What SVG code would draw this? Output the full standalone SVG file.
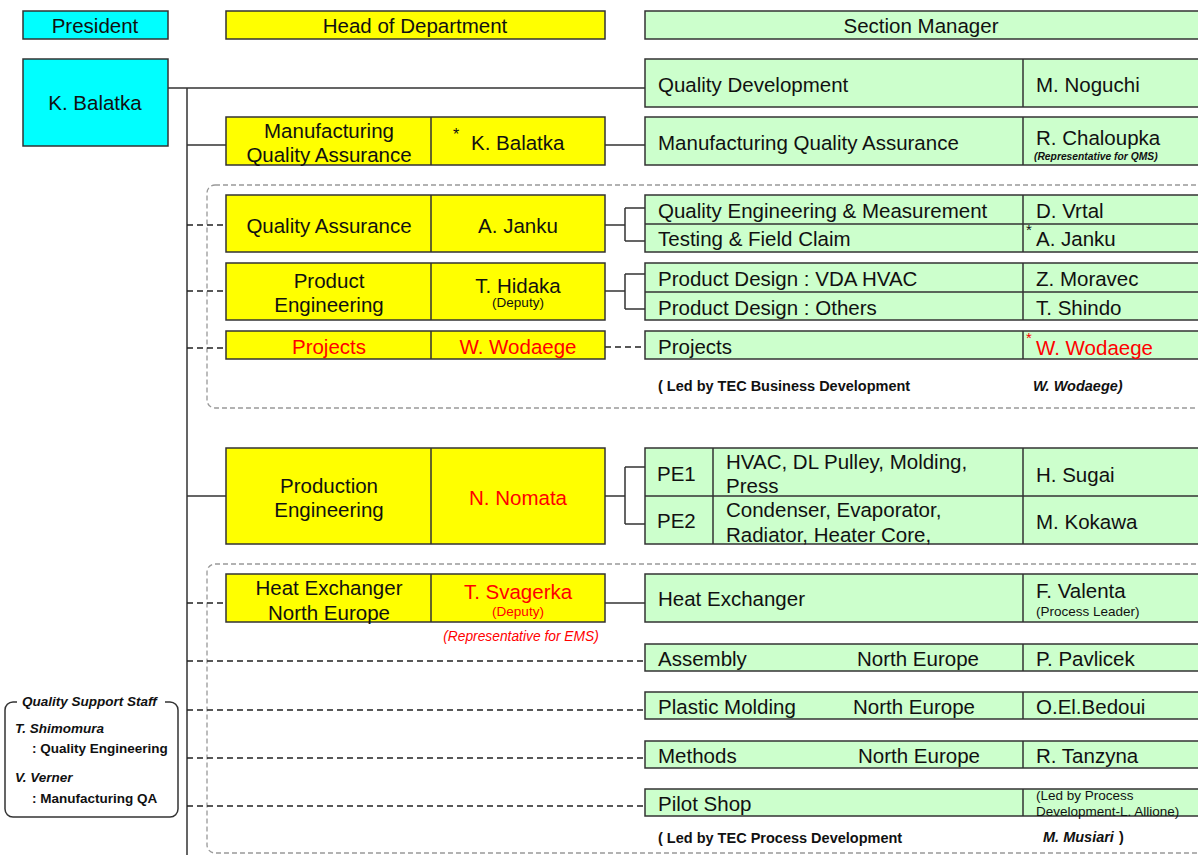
<svg xmlns="http://www.w3.org/2000/svg" width="1198" height="855" viewBox="0 0 1198 855">
<style>
text{font-family:"Liberation Sans",Arial,sans-serif;fill:#111;dominant-baseline:central}
.m{font-size:20.5px}
.c{text-anchor:middle}
.r{fill:#f00}
.s{font-size:13.5px}
.sb{font-size:14.5px;font-weight:bold}
.bi{font-weight:bold;font-style:italic}
.it{font-style:italic}
.q{font-size:13.5px}
.cy{fill:#00ffff;stroke:#333;stroke-width:1.5}
.ye{fill:#ffff00;stroke:#333;stroke-width:1.5}
.gr{fill:#ccffcc;stroke:#333;stroke-width:1.5}
.ln{fill:none;stroke:#333;stroke-width:1.5}
.dl{fill:none;stroke:#222;stroke-width:1.3;stroke-dasharray:6 4}
.dr{fill:none;stroke:#999;stroke-width:1.3;stroke-dasharray:5 3}
</style>
<rect width="1198" height="855" fill="#fff"/>

<g id="frames">
<rect class="dr" x="207" y="185" width="1010" height="223" rx="8"/>
<rect class="dr" x="207" y="564" width="1010" height="289" rx="8"/>
</g>

<g id="connectors">
<path class="ln" d="M168 88H645M187 88V855M187 145H226M605 145H645"/>
<path class="ln" d="M605 225H625M625 208V241M625 208H645M625 241H645"/>
<path class="ln" d="M605 291H625M625 274V309M625 274H645M625 309H645"/>
<path class="ln" d="M187 496H226M605 496H625M625 467V524M625 467H645M625 524H645"/>
<path class="ln" d="M605 603H645"/>
<path class="dl" d="M187 225H226M187 291H226M187 348H226M605 347H645M187 603H226"/>
<path class="dl" d="M187 661H645M187 710H645M187 758H645M187 806H645"/>
</g>

<g id="hdr-president"><rect class="cy" x="23" y="11" width="145" height="28"/><text class="m c" x="95" y="25">President</text></g>
<g id="hdr-head"><rect class="ye" x="226" y="11" width="379" height="28"/><text class="m c" x="415" y="25">Head of Department</text></g>
<g id="hdr-section"><rect class="gr" x="645" y="11" width="560" height="28"/><text class="m c" x="921" y="25">Section Manager</text></g>

<g id="president"><rect class="cy" x="23" y="59" width="145" height="87"/><text class="m c" x="95" y="102">K. Balatka</text></g>

<g id="quality-development"><rect class="gr" x="645" y="59" width="560" height="48"/><path class="ln" d="M1023 59V107"/>
<text class="m" x="658" y="84">Quality Development</text><text class="m" x="1036" y="84">M. Noguchi</text></g>

<g id="mqa-head"><rect class="ye" x="226" y="117" width="379" height="48"/><path class="ln" d="M431 117V165"/>
<text class="m c" x="329" y="130">Manufacturing</text><text class="m c" x="329" y="154">Quality Assurance</text>
<text x="453" y="134" style="font-size:16px">*</text><text class="m" x="471" y="142">K. Balatka</text></g>
<g id="mqa-section"><rect class="gr" x="645" y="117" width="560" height="48"/><path class="ln" d="M1023 117V165"/>
<text class="m" x="658" y="142">Manufacturing Quality Assurance</text><text class="m" x="1036" y="137">R. Chaloupka</text>
<text class="bi" x="1034" y="156" style="font-size:10.3px">(Representative for QMS)</text></g>

<g id="qa-head"><rect class="ye" x="226" y="195" width="379" height="57"/><path class="ln" d="M431 195V252"/>
<text class="m c" x="329" y="225">Quality Assurance</text><text class="m c" x="518" y="225">A. Janku</text></g>
<g id="qa-section"><rect class="gr" x="645" y="195" width="560" height="57"/><path class="ln" d="M1023 195V252M645 224H1205"/>
<text class="m" x="658" y="210">Quality Engineering &amp; Measurement</text><text class="m" x="1036" y="210">D. Vrtal</text>
<text class="m" x="658" y="238">Testing &amp; Field Claim</text><text x="1026" y="229" style="font-size:15px">*</text><text class="m" x="1036" y="238">A. Janku</text></g>

<g id="pe-head"><rect class="ye" x="226" y="263" width="379" height="57"/><path class="ln" d="M431 263V320"/>
<text class="m c" x="329" y="280">Product</text><text class="m c" x="329" y="304">Engineering</text>
<text class="m c" x="518" y="285">T. Hidaka</text><text class="s c" x="518" y="302">(Deputy)</text></g>
<g id="pe-section"><rect class="gr" x="645" y="263" width="560" height="57"/><path class="ln" d="M1023 263V320M645 292H1205"/>
<text class="m" x="658" y="278">Product Design : VDA HVAC</text><text class="m" x="1036" y="278">Z. Moravec</text>
<text class="m" x="658" y="307">Product Design : Others</text><text class="m" x="1036" y="307">T. Shindo</text></g>

<g id="projects-head"><rect class="ye" x="226" y="331" width="379" height="28"/><path class="ln" d="M431 331V359"/>
<text class="m c r" x="329" y="346">Projects</text><text class="m c r" x="518" y="346">W. Wodaege</text></g>
<g id="projects-section"><rect class="gr" x="645" y="331" width="560" height="28"/><path class="ln" d="M1023 331V359"/>
<text class="m" x="658" y="346">Projects</text><text class="r" x="1026" y="337" style="font-size:15px">*</text><text class="m r" x="1036" y="347">W. Wodaege</text></g>
<g id="note-business"><text class="sb" x="658" y="386">( Led by TEC Business Development</text><text class="sb bi" x="1033" y="386">W. Wodaege)</text></g>

<g id="prod-head"><rect class="ye" x="226" y="448" width="379" height="96"/><path class="ln" d="M431 448V544"/>
<text class="m c" x="329" y="485">Production</text><text class="m c" x="329" y="509">Engineering</text>
<text class="m c r" x="518" y="497">N. Nomata</text></g>
<g id="prod-section"><rect class="gr" x="645" y="448" width="560" height="96"/><path class="ln" d="M713 448V544M1023 448V544M645 496H1205"/>
<text class="m" x="657" y="473">PE1</text><text class="m" x="726" y="461">HVAC, DL Pulley, Molding,</text><text class="m" x="726" y="485">Press</text><text class="m" x="1036" y="474">H. Sugai</text>
<text class="m" x="657" y="520">PE2</text><text class="m" x="726" y="509">Condenser, Evaporator,</text><text class="m" x="726" y="534">Radiator, Heater Core,</text><text class="m" x="1036" y="521">M. Kokawa</text></g>

<g id="hx-head"><rect class="ye" x="226" y="574" width="379" height="48"/><path class="ln" d="M431 574V622"/>
<text class="m c" x="329" y="587">Heat Exchanger</text><text class="m c" x="329" y="612">North Europe</text>
<text class="m c r" x="518" y="591">T. Svagerka</text><text class="s c r" x="518" y="611">(Deputy)</text>
<text class="c r it" x="521" y="636" style="font-size:13.8px">(Representative for EMS)</text></g>
<g id="hx-section"><rect class="gr" x="645" y="574" width="560" height="48"/><path class="ln" d="M1023 574V622"/>
<text class="m" x="658" y="598">Heat Exchanger</text><text class="m" x="1036" y="590">F. Valenta</text><text class="s" x="1036" y="611">(Process Leader)</text></g>

<g id="assembly"><rect class="gr" x="645" y="644" width="560" height="27"/><path class="ln" d="M1023 644V671"/>
<text class="m" x="658" y="658">Assembly</text><text class="m" x="857" y="658">North Europe</text><text class="m" x="1036" y="658">P. Pavlicek</text></g>
<g id="plastic"><rect class="gr" x="645" y="692" width="560" height="27"/><path class="ln" d="M1023 692V719"/>
<text class="m" x="658" y="706">Plastic Molding</text><text class="m" x="853" y="706">North Europe</text><text class="m" x="1036" y="706">O.El.Bedoui</text></g>
<g id="methods"><rect class="gr" x="645" y="741" width="560" height="27"/><path class="ln" d="M1023 741V768"/>
<text class="m" x="658" y="755">Methods</text><text class="m" x="858" y="755">North Europe</text><text class="m" x="1036" y="755">R. Tanzyna</text></g>
<g id="pilot"><rect class="gr" x="645" y="789" width="560" height="27"/><path class="ln" d="M1023 789V816"/>
<text class="m" x="658" y="803">Pilot Shop</text><text class="s" x="1036" y="795">(Led by Process</text><text class="s" x="1036" y="811">Development-L. Allione)</text></g>
<g id="note-process"><text class="sb" x="658" y="838">( Led by TEC Process Development</text><text class="sb bi" x="1043" y="837">M. Musiari</text><text class="sb" x="1119" y="837">)</text></g>

<g id="support-staff">
<path class="ln" d="M17 702H13A8 8 0 0 0 5 710V809A8 8 0 0 0 13 817H170A8 8 0 0 0 178 809V710A8 8 0 0 0 170 702H165"/>
<text class="bi q" x="22" y="701">Quality Support Staff</text>
<text class="bi q" x="15" y="728">T. Shimomura</text>
<text class="q" style="font-weight:bold" x="32" y="748">: Quality Engineering</text>
<text class="bi q" x="15" y="777">V. Verner</text>
<text class="q" style="font-weight:bold" x="32" y="798">: Manufacturing QA</text>
</g>
</svg>
